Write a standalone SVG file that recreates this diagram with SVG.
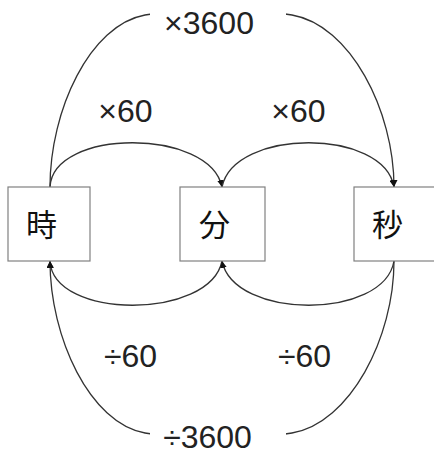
<svg xmlns="http://www.w3.org/2000/svg" width="434" height="455" viewBox="0 0 434 455">
<style>
.box{fill:#fff;stroke:#808080;stroke-width:1.2}
.edge{fill:none;stroke:#333;stroke-width:1.3;marker-end:url(#ah)}
.lbl{font-family:"Liberation Sans",Arial,sans-serif;font-size:32px;fill:#222;text-anchor:middle}
.cjk{font-family:"Noto Sans CJK JP","Noto Sans CJK SC",sans-serif;font-size:31px;fill:#111;text-anchor:middle}
.bg{fill:#fff}
</style>
<defs>
<marker id="ah" viewBox="0 0 10 10" refX="10" refY="5" markerWidth="7" markerHeight="7" markerUnits="userSpaceOnUse" orient="auto">
<path d="M0,0 L10,5 L0,10 z" fill="#111"/>
</marker>
</defs>
<rect width="434" height="455" fill="#fff"/>
<g id="connectors">
<path class="edge" d="M50,187 C53,128 210,128 222,187"/>
<path class="edge" d="M222,187 C234,128 384,128 394,187"/>
<path class="edge" d="M50,187 C50,110 90,25 145,15 C180,9 257,9 292,15 C350,25 394,110 394,187"/>
<path class="edge" d="M222,261 C210,320 53,320 50,261"/>
<path class="edge" d="M394,261 C384,320 234,320 222,261"/>
<path class="edge" d="M394,261 C394,338 350,423 292,433 C257,439 180,439 145,433 C90,423 50,338 50,261"/>
<rect class="bg" x="150" y="2" width="136" height="40"/>
<rect class="bg" x="150" y="414" width="136" height="40"/>
<text class="lbl" x="209" y="34">×3600</text>
<text class="lbl" x="125.5" y="122">×60</text>
<text class="lbl" x="298.5" y="122">×60</text>
<text class="lbl" x="130.5" y="367">÷60</text>
<text class="lbl" x="304.5" y="367">÷60</text>
<text class="lbl" x="207.5" y="448">÷3600</text>
</g>
<g id="node-hour">
<rect class="box" x="8" y="187" width="82" height="74"/>
<text class="cjk" x="41.5" y="236">時</text>
</g>
<g id="node-minute">
<rect class="box" x="180" y="187" width="85" height="74"/>
<text class="cjk" x="214.5" y="236">分</text>
</g>
<g id="node-second">
<rect class="box" x="354" y="187" width="84" height="74"/>
<text class="cjk" x="387.5" y="236">秒</text>
</g>
</svg>
